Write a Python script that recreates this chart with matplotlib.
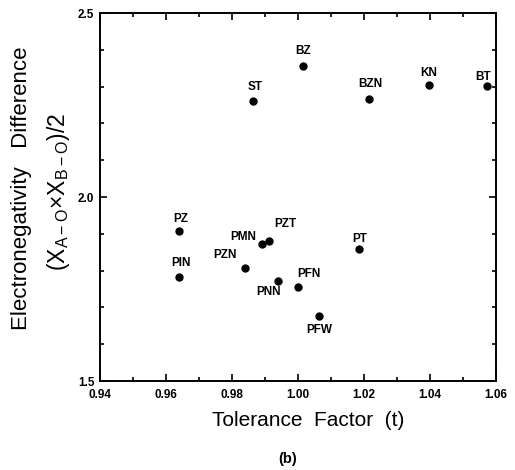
import matplotlib
matplotlib.use("Agg")
import matplotlib.pyplot as plt
from matplotlib.ticker import MultipleLocator

names = ["ST", "BZ", "BZN", "KN", "BT", "PZ", "PIN", "PZN", "PMN", "PZT", "PT", "PNN", "PFN", "PFW"]
tolerance = [0.9864, 1.0016, 1.0215, 1.0398, 1.0574, 0.9639, 0.9640, 0.9839, 0.9890, 0.9912, 1.0185, 0.9940, 0.9999, 1.0065]
electroneg = [2.261, 2.356, 2.266, 2.304, 2.302, 1.908, 1.782, 1.806, 1.872, 1.881, 1.858, 1.772, 1.755, 1.677]
# label offsets in pixels (dx, dy) relative to each dot
label_off = {
    "ST": (2, 14), "BZ": (0, 15), "BZN": (1, 15), "KN": (-1, 12), "BT": (-4, 9),
    "PZ": (2, 12), "PIN": (2, 14), "PZN": (-20, 13), "PMN": (-19, 7), "PZT": (16, 17),
    "PT": (1, 10), "PNN": (-10, -11), "PFN": (11, 13), "PFW": (0, -14),
}
xticks = [0.94, 0.96, 0.98, 1.00, 1.02, 1.04, 1.06]
xticklabels = ["0.94", "0.96", "0.98", "1.00", "1.02", "1.04", "1.06"]
yticks = [1.5, 2.0, 2.5]
yticklabels = ["1.5", "2.0", "2.5"]

W, H = 515, 470
fig = plt.figure(figsize=(W / 100, H / 100), dpi=100)
plt.rcParams['font.family'] = ['Liberation Sans', 'DejaVu Sans']
plt.rcParams['mathtext.fontset'] = 'custom'
plt.rcParams['mathtext.rm'] = 'Liberation Sans'
left, right, top, bottom = 100, 496, 13, 381
ax = fig.add_axes([left / W, 1 - bottom / H, (right - left) / W, (bottom - top) / H])

ax.scatter(tolerance, electroneg, s=36, color="black", zorder=3, linewidths=0)
for n, x, y in zip(names, tolerance, electroneg):
    dx, dy = label_off[n]
    ax.annotate(n, (x, y), xytext=(dx * 0.72, dy * 0.72), textcoords="offset points",
                ha="center", va="center", fontsize=8.5, fontweight="bold")

ax.set_xlim(0.94, 1.06)
ax.set_ylim(1.5, 2.5)
ax.set_xticks(xticks)
ax.set_xticklabels(xticklabels, fontsize=8.5, fontweight="bold")
ax.set_yticks(yticks)
ax.set_yticklabels(yticklabels, fontsize=8.5, fontweight="bold")
ax.xaxis.set_minor_locator(MultipleLocator(0.01))
ax.yaxis.set_minor_locator(MultipleLocator(0.1))
ax.tick_params(which="both", direction="in", top=True, right=True, width=1.2)
ax.tick_params(which="major", length=5)
ax.tick_params(axis="x", which="major", pad=6)
ax.tick_params(axis="y", which="major", pad=4)
ax.tick_params(which="minor", length=3)
for s in ax.spines.values():
    s.set_linewidth(1.4)

fig.text(308 / W, 1 - 420 / H, "Tolerance  Factor  (t)", ha="center", va="center", fontsize=15)
fig.text(22 / W, 1 - 188 / H, "Electronegativity   Difference", ha="center", va="center",
         rotation=90, fontsize=16)
fig.text(58 / W, 1 - 192 / H, r"(X$_{\mathrm{A-O}}$$\times$X$_{\mathrm{B-O}}$)/2", ha="center", va="center",
         rotation=90, fontsize=16.5)
fig.text(288 / W, 1 - 459 / H, "(b)", ha="center", va="center", fontsize=10.5, fontweight="bold")

fig.savefig("out.png", dpi=100)
